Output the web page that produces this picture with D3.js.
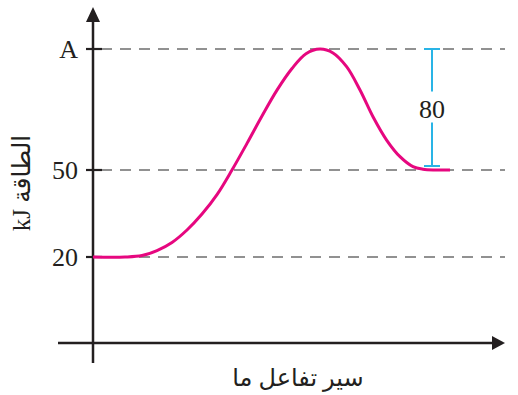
<!DOCTYPE html>
<html>
<head>
<meta charset="utf-8">
<script src="https://cdn.jsdelivr.net/npm/d3@7"></script>
<style>
  body { margin: 0; background: #fff; }
  svg { display: block; }
</style>
</head>
<body>
<script>
// reaction progress (arbitrary 0..100) and energy in kJ
var progress = [0, 8, 12.25, 16, 19.75, 23.5, 27.25, 31, 34.75, 38.5, 42.25, 46, 49.75, 53.25, 56.75,
                60, 63.4, 66.75, 70, 73.4, 76.75, 80, 82.5, 85.5, 89.25];
var energy   = [20, 20, 20.5, 22.2, 25, 29.3, 34.8, 41.5, 50, 67.6, 85.7, 102.8, 117.1, 126.9, 130,
                127.4, 118.3, 102.9, 85.2, 69.8, 58.8, 52.2, 50.5, 50, 50];

var levels = [130, 50, 20];
var levelLabels = ["A", "50", "20"];
var deltaLabel = "80";
var xTitle = "سير تفاعل ما";
var yTitle = "kJ الطاقة";

var width = 518, height = 395;

var svg = d3.select("body").append("svg")
  .attr("width", width)
  .attr("height", height);

// y axis is not to scale above 50 (piecewise)
var x = d3.scaleLinear().domain([0, 100]).range([93, 493]);
var y = d3.scaleLinear().domain([20, 50, 130]).range([257, 170, 49]);

var axisY = 343, axisX = x(0);
var ink = "#231f20";

// dashed guide lines
svg.selectAll(".guide")
  .data(levels)
  .enter()
  .append("line")
  .attr("x1", axisX + 8)
  .attr("x2", 505)
  .attr("y1", d => y(d))
  .attr("y2", d => y(d))
  .attr("stroke", "#6d6d6d")
  .attr("stroke-width", 1.4)
  .attr("stroke-dasharray", "11,8");

// axes
svg.append("line")
  .attr("x1", axisX).attr("x2", axisX)
  .attr("y1", 363).attr("y2", 18)
  .attr("stroke", ink).attr("stroke-width", 2.5);
svg.append("path")
  .attr("d", `M${axisX},7 L${axisX - 7},22 L${axisX + 7},22 Z`)
  .attr("fill", ink);

svg.append("line")
  .attr("x1", 58).attr("x2", 496)
  .attr("y1", axisY).attr("y2", axisY)
  .attr("stroke", ink).attr("stroke-width", 2.5);
svg.append("path")
  .attr("d", `M505,${axisY} L492,${axisY - 7} L492,${axisY + 7} Z`)
  .attr("fill", ink);

// ticks + labels
svg.selectAll(".tick")
  .data(levels)
  .enter()
  .append("line")
  .attr("x1", axisX - 7)
  .attr("x2", axisX + 9)
  .attr("y1", d => y(d))
  .attr("y2", d => y(d))
  .attr("stroke", ink)
  .attr("stroke-width", 2.2);

svg.selectAll(".lbl")
  .data(levels)
  .enter()
  .append("text")
  .attr("x", 78)
  .attr("y", d => y(d))
  .attr("dy", "0.35em")
  .attr("text-anchor", "end")
  .attr("font-family", "Liberation Serif, serif")
  .attr("font-size", 26)
  .attr("fill", ink)
  .text((d, i) => levelLabels[i]);

// energy profile
var line = d3.line()
  .x((d, i) => x(progress[i]))
  .y(d => y(d))
  .curve(d3.curveCatmullRom.alpha(0.5));

svg.append("path")
  .datum(energy)
  .attr("d", line)
  .attr("fill", "none")
  .attr("stroke", "#e6077f")
  .attr("stroke-width", 3);

// delta bracket between A and 50
var bx = 432, bTop = y(130), bBot = y(50) - 4;
var blue = "#29b4e6";
var midY = (bTop + bBot) / 2;
var g = svg.append("g").attr("stroke", blue).attr("stroke-width", 2);
g.append("line").attr("x1", bx).attr("x2", bx).attr("y1", bTop).attr("y2", midY - 16);
g.append("line").attr("x1", bx).attr("x2", bx).attr("y1", midY + 15).attr("y2", bBot);
g.append("line").attr("x1", bx - 8).attr("x2", bx + 8).attr("y1", bTop).attr("y2", bTop);
g.append("line").attr("x1", bx - 8).attr("x2", bx + 8).attr("y1", bBot).attr("y2", bBot);

svg.append("text")
  .attr("x", bx)
  .attr("y", midY + 1)
  .attr("dy", "0.35em")
  .attr("text-anchor", "middle")
  .attr("font-family", "Liberation Serif, serif")
  .attr("font-size", 26)
  .attr("fill", ink)
  .text(deltaLabel);

// axis titles
svg.append("text")
  .attr("x", 298)
  .attr("y", 386)
  .attr("text-anchor", "middle")
  .attr("font-family", "Liberation Serif, DejaVu Sans, serif")
  .attr("font-size", 24)
  .attr("fill", ink)
  .text(xTitle);

svg.append("text")
  .attr("transform", "translate(30,183) rotate(-90)")
  .attr("text-anchor", "middle")
  .attr("font-family", "Liberation Serif, DejaVu Sans, serif")
  .attr("font-size", 25)
  .attr("fill", ink)
  .text(yTitle);
</script>
</body>
</html>
